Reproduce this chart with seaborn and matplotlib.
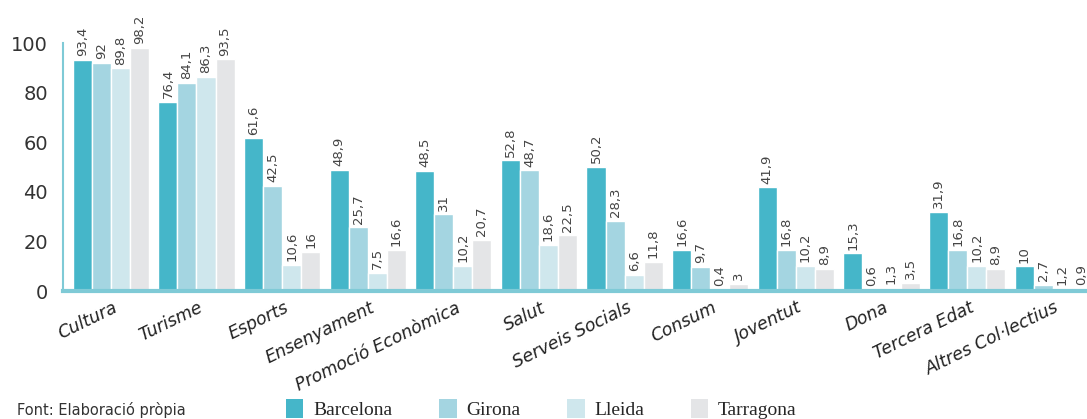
import numpy as np
import pandas as pd
import seaborn as sns
import matplotlib.pyplot as plt
from matplotlib.patches import Patch

categories = ["Cultura", "Turisme", "Esports", "Ensenyament", "Promoció Econòmica",
              "Salut", "Serveis Socials", "Consum", "Joventut", "Dona",
              "Tercera Edat", "Altres Col·lectius"]
barcelona = [93.4, 76.4, 61.6, 48.9, 48.5, 52.8, 50.2, 16.6, 41.9, 15.3, 31.9, 10]
girona = [92, 84.1, 42.5, 25.7, 31, 48.7, 28.3, 9.7, 16.8, 0.6, 16.8, 2.7]
lleida = [89.8, 86.3, 10.6, 7.5, 10.2, 18.6, 6.6, 0.4, 10.2, 1.3, 10.2, 1.2]
tarragona = [98.2, 93.5, 16, 16.6, 20.7, 22.5, 11.8, 3, 8.9, 3.5, 8.9, 0.9]
provinces = ["Barcelona", "Girona", "Lleida", "Tarragona"]
colors = ["#45b6c9", "#a4d5e1", "#cfe7ed", "#e4e5e7"]
yticks = [0, 20, 40, 60, 80, 100]

df = pd.DataFrame({"categoria": categories, "Barcelona": barcelona, "Girona": girona,
                   "Lleida": lleida, "Tarragona": tarragona})
long = df.melt(id_vars="categoria", var_name="provincia", value_name="valor")

sns.set_style("white")
plt.rcParams["font.family"] = ["DejaVu Sans"]

fig = plt.figure(figsize=(10.87, 4.19), dpi=100)
ax = fig.add_axes([0.058, 0.305, 0.942, 0.592])

sns.barplot(data=long, x="categoria", y="valor", hue="provincia", order=categories,
            hue_order=provinces, palette=colors, width=0.89, saturation=1,
            legend=False, ax=ax)

def fmt(v):
    s = f"{v:g}"
    return s.replace(".", ",")

for cont in ax.containers:
    for bar in cont:
        h = bar.get_height()
        bar.set_clip_on(False)
        ax.text(bar.get_x() + bar.get_width() / 2, h + 1.5, fmt(h), rotation=90,
                ha="center", va="bottom", fontsize=9.5, color="#444444", clip_on=False)

ax.set_xlim(-0.558, 11.40)
ax.set_ylim(0, 100)
ax.set_yticks(yticks)
ax.set_yticklabels([str(t) for t in yticks], fontsize=14, color="#333333")
ax.set_xlabel("")
ax.set_ylabel("")

# ticks at group boundaries
ax.set_xticks(np.arange(len(categories)) - 0.5)
ax.set_xticklabels([])
ax.tick_params(axis="x", length=5, color="#45b6c9", width=1.2, direction="out")
ax.tick_params(axis="y", length=5, color="#45b6c9", width=1.2, direction="out", pad=6)
for i, c in enumerate(categories):
    ax.text(i + 0.02, -3, c, rotation=26, ha="right", va="top", rotation_mode="anchor",
            fontsize=12.5, style="italic", color="#222222", transform=ax.transData)

sns.despine(ax=ax, top=True, right=True)
ax.spines["left"].set_color("#7fcad6")
ax.spines["left"].set_linewidth(1.5)
ax.spines["bottom"].set_color("#7fcad6")
ax.spines["bottom"].set_linewidth(3)

fig.text(0.016, 0.022, "Font: Elaboració pròpia", fontsize=10.5, color="#333333", va="center")
handles = [Patch(facecolor=c, edgecolor="none") for c in colors]
fig.legend(handles, provinces, ncol=4, loc="center left", bbox_to_anchor=(0.247, 0.024),
           frameon=False, handlelength=0.9, handleheight=1.1, handletextpad=0.5,
           columnspacing=2.4, prop={"family": "Liberation Serif", "size": 14})

fig.savefig("out.png", dpi=100)
